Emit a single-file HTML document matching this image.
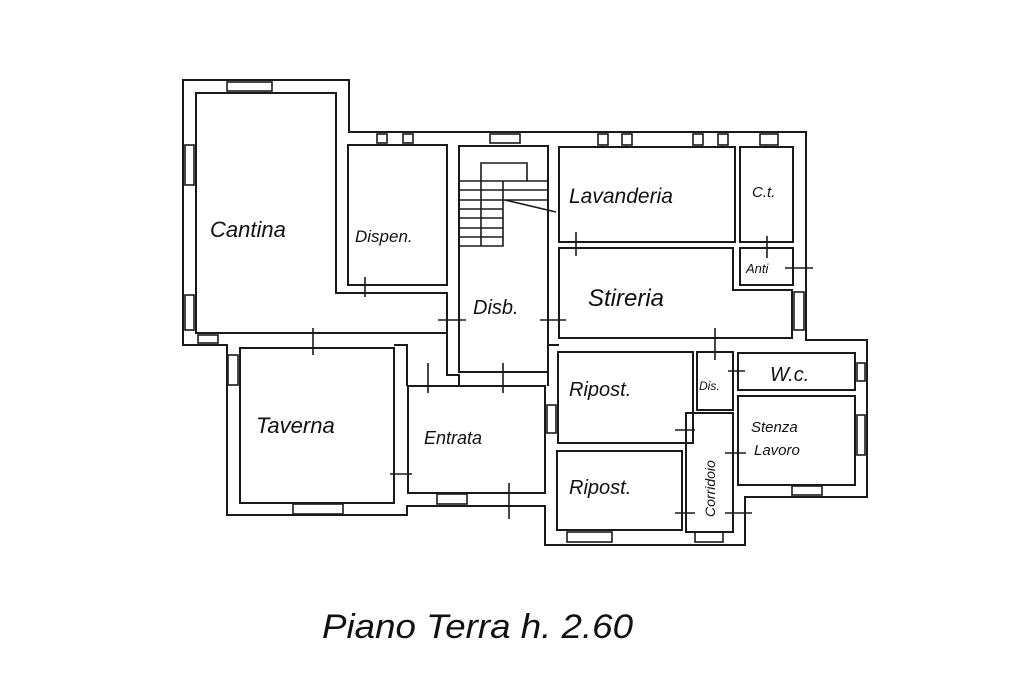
<!DOCTYPE html>
<html><head><meta charset="utf-8"><style>
html,body{margin:0;padding:0;background:#fff;}
svg{display:block;}
text{font-family:"Liberation Sans",sans-serif;font-style:italic;fill:#111;}
</style></head><body>
<svg width="1024" height="683" viewBox="0 0 1024 683" xmlns="http://www.w3.org/2000/svg">
<g fill="none" stroke="#1a1a1a" stroke-width="2">
<polygon points="183,80 349,80 349,132 806,132 806,340 867,340 867,497 745,497 745,545 545,545 545,506 407,506 407,515 227,515 227,345 183,345"/>
<polygon points="196,93 336,93 336,293 447,293 447,333 196,333"/>
<rect x="348" y="145" width="99" height="140"/>
<rect x="459" y="146" width="89" height="226"/>
<rect x="559" y="147" width="176" height="95"/>
<rect x="740" y="147" width="53" height="95"/>
<rect x="740" y="248" width="53" height="37"/>
<polygon points="559,248 733,248 733,290 792,290 792,338 559,338"/>
<rect x="558" y="352" width="135" height="91"/>
<rect x="557" y="451" width="125" height="79"/>
<rect x="697" y="352" width="36" height="58"/>
<rect x="686" y="413" width="47" height="119"/>
<rect x="738" y="353" width="117" height="37"/>
<rect x="738" y="396" width="117" height="89"/>
<rect x="240" y="348" width="154" height="155"/>
<rect x="408" y="386" width="137" height="107"/>
<polyline points="394,345 407,345 407,386"/>
<polyline points="447,333 447,375 459,375 459,386"/>
<line x1="548" y1="372" x2="548" y2="386"/>
<line x1="548" y1="345" x2="559" y2="345"/>
</g>
<g fill="none" stroke="#1a1a1a" stroke-width="1.6">
<polyline points="481,246 481,163 527,163 527,181"/>
<line x1="459" y1="181" x2="548" y2="181"/>
<line x1="459" y1="190" x2="548" y2="190"/>
<line x1="459" y1="200" x2="548" y2="200"/>
<line x1="459" y1="209" x2="503" y2="209"/>
<line x1="459" y1="218" x2="503" y2="218"/>
<line x1="459" y1="228" x2="503" y2="228"/>
<line x1="459" y1="237" x2="503" y2="237"/>
<polyline points="459,246 503,246 503,181"/>
<line x1="505" y1="200" x2="556" y2="212"/>
<rect x="227" y="82" width="45" height="9"/>
<rect x="185" y="145" width="9" height="40"/>
<rect x="185" y="295" width="9" height="35"/>
<rect x="377" y="134" width="10" height="9"/>
<rect x="403" y="134" width="10" height="9"/>
<rect x="490" y="134" width="30" height="9"/>
<rect x="598" y="134" width="10" height="11"/>
<rect x="622" y="134" width="10" height="11"/>
<rect x="693" y="134" width="10" height="11"/>
<rect x="718" y="134" width="10" height="11"/>
<rect x="760" y="134" width="18" height="11"/>
<rect x="794" y="292" width="10" height="38"/>
<rect x="857" y="363" width="8" height="18"/>
<rect x="857" y="415" width="8" height="40"/>
<rect x="792" y="486" width="30" height="9"/>
<rect x="567" y="532" width="45" height="10"/>
<rect x="695" y="532" width="28" height="10"/>
<rect x="228" y="355" width="10" height="30"/>
<rect x="293" y="504" width="50" height="10"/>
<rect x="437" y="494" width="30" height="10"/>
<rect x="547" y="405" width="9" height="28"/>
<rect x="198" y="335" width="20" height="8"/>
</g>
<g stroke="#1a1a1a" stroke-width="1.6">
<line x1="365" y1="277" x2="365" y2="297"/>
<line x1="438" y1="320" x2="466" y2="320"/>
<line x1="540" y1="320" x2="566" y2="320"/>
<line x1="313" y1="328" x2="313" y2="355"/>
<line x1="428" y1="363" x2="428" y2="393"/>
<line x1="503" y1="363" x2="503" y2="393"/>
<line x1="576" y1="232" x2="576" y2="256"/>
<line x1="767" y1="236" x2="767" y2="258"/>
<line x1="785" y1="268" x2="813" y2="268"/>
<line x1="715" y1="328" x2="715" y2="360"/>
<line x1="728" y1="371" x2="745" y2="371"/>
<line x1="675" y1="430" x2="695" y2="430"/>
<line x1="725" y1="453" x2="746" y2="453"/>
<line x1="675" y1="513" x2="695" y2="513"/>
<line x1="725" y1="513" x2="752" y2="513"/>
<line x1="390" y1="474" x2="412" y2="474"/>
<line x1="509" y1="483" x2="509" y2="519"/>
</g>
<text x="210" y="237" font-size="22">Cantina</text>
<text x="355" y="242" font-size="17">Dispen.</text>
<text x="473" y="314" font-size="20">Disb.</text>
<text x="569" y="203" font-size="21">Lavanderia</text>
<text x="752" y="197" font-size="15">C.t.</text>
<text x="746" y="273" font-size="13">Anti</text>
<text x="588" y="306" font-size="24">Stireria</text>
<text x="569" y="396" font-size="20">Ripost.</text>
<text x="569" y="494" font-size="20">Ripost.</text>
<text x="699" y="390" font-size="12">Dis.</text>
<text x="770" y="381" font-size="20">W.c.</text>
<text x="751" y="432" font-size="15">Stenza</text>
<text x="754" y="455" font-size="15">Lavoro</text>
<text x="256" y="433" font-size="22">Taverna</text>
<text x="424" y="444" font-size="18">Entrata</text>
<text transform="translate(715,517) rotate(-90)" font-size="14">Corridoio</text>
<text x="322" y="638" font-size="34" textLength="311" lengthAdjust="spacingAndGlyphs">Piano Terra h. 2.60</text>
</svg>
</body></html>
